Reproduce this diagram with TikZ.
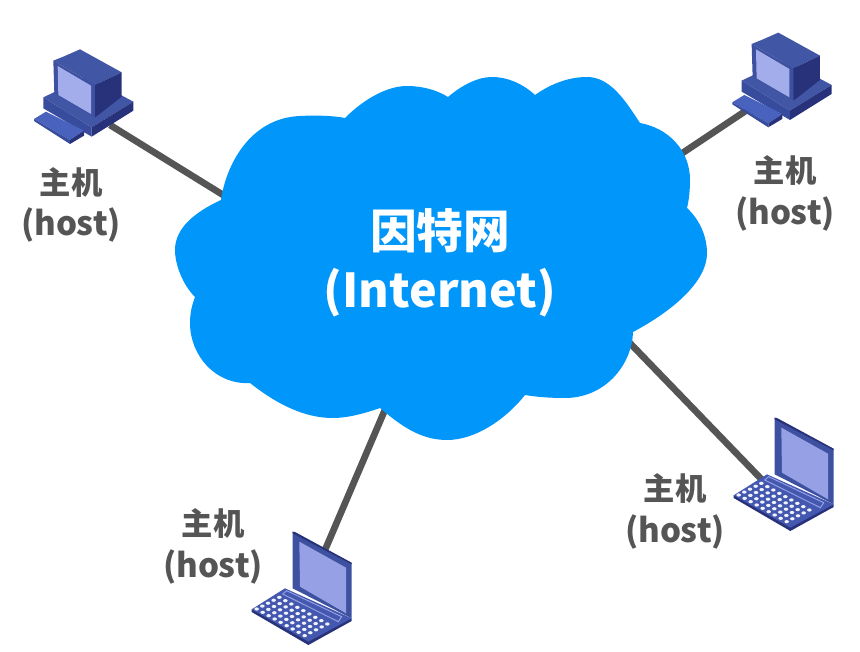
\documentclass[tikz,border=0pt]{standalone}
\usepackage{fontspec}
\newfontfamily\cjk{Noto Sans CJK SC}
\definecolor{cloudblue}{RGB}{0,150,250}
\definecolor{wire}{RGB}{85,85,85}
\definecolor{labelgray}{RGB}{85,85,85}
\definecolor{pcfront}{RGB}{62,80,160}
\definecolor{pctop}{RGB}{66,86,166}
\definecolor{pcside}{RGB}{40,50,122}
\definecolor{pcscreen}{RGB}{163,173,235}
\definecolor{pctray}{RGB}{72,98,190}
\definecolor{pcbase}{RGB}{56,76,158}
\definecolor{lapbase}{RGB}{68,88,176}
\definecolor{lapscreen}{RGB}{150,160,228}
\definecolor{lapkey}{RGB}{240,243,252}
\tikzset{
  connector/.style={draw=wire,line width=5pt},
  hostlabel/.style={text=labelgray,font=\cjk\bfseries\fontsize{23.5}{26}\selectfont,inner sep=0pt},
  hostlatin/.style={text=labelgray,font=\cjk\bfseries\fontsize{24.8}{26}\selectfont,inner sep=0pt},
  cloudlabel/.style={text=white,font=\cjk\bfseries\fontsize{35}{38}\selectfont,inner sep=0pt},
  desktop/.pic={
    \begin{scope}[scale=1/3]
      \fill[pctop] (70,172) -- (200,110) -- (340,185) -- (215,262) -- cycle;
      \fill[pcbase] (70,172) -- (215,262) -- (215,290) -- (70,205) -- cycle;
      \fill[pcside] (215,262) -- (340,185) -- (340,212) -- (215,290) -- cycle;
      \fill[pctray] (42,237) -- (78,215) -- (192,272) -- (150,300) -- cycle;
      \fill[pcbase] (42,237) -- (150,300) -- (150,312) -- (42,243) -- cycle;
      \fill[pcside] (150,300) -- (192,272) -- (192,287) -- (150,312) -- cycle;
      \fill[pctop] (100,62) -- (130,50) -- (180,28) -- (305,97) -- (225,135) -- cycle;
      \fill[pcfront] (100,62) -- (225,135) -- (225,232) -- (103,160) -- cycle;
      \fill[pcside] (225,135) -- (305,97) -- (305,170) -- (235,225) -- (225,232) -- cycle;
      \fill[pcscreen] (113,78) -- (213,137) -- (213,222) -- (115,165) -- cycle;
    \end{scope}
  },
  laptop/.pic={
    \begin{scope}[scale=1/3]
      \fill[pcside] (35,268) -- (35,276) -- (205,375) -- (335,303) -- (335,295) -- cycle;
      \fill[lapbase] (35,268) -- (135,205) -- (335,295) -- (205,365) -- cycle;
      \fill[pcfront] (158,35) -- (335,130) -- (335,295) -- (158,205) -- cycle;
      \fill[pcside] (158,35) -- (165,36) -- (335,128) -- (335,133) -- (158,40) -- cycle;
      \fill[lapscreen] (178,65) -- (318,143) -- (318,280) -- (180,200) -- cycle;
      \draw[lapscreen,line width=.7pt] (140,212) -- (305,290) -- (295,305) -- (128,222) -- cycle;
      \foreach \i in {0,...,8}
        \foreach \j in {0,...,4}
          \fill[lapkey] ({118+\i*18-\j*17},{232+\i*10+\j*8.75}) ellipse [x radius=6.8,y radius=4.8];
    \end{scope}
  }
}
\begin{document}
\begin{tikzpicture}[x=0.75pt,y=-0.75pt]
\useasboundingbox (0,0) rectangle (860,652);
\fill[white] (0,0) rectangle (860,652);
% connector ends
\coordinate (hostA) at (110,125);
\coordinate (hostB) at (750,108);
\coordinate (hostC) at (325,550);
\coordinate (hostD) at (767,485);
\coordinate (cloudA) at (228,198);
\coordinate (cloudB) at (675,158);
\coordinate (cloudC) at (387,405);
\coordinate (cloudD) at (625,338);
\draw[connector] (hostA) -- (cloudA);
\draw[connector] (hostB) -- (cloudB);
\draw[connector] (hostC) -- (cloudC);
\draw[connector] (hostD) -- (cloudD);
% cloud
\fill[cloudblue]
  (221,200) .. controls (226,165) and (250,118) .. (300,116) .. controls (318,115) and (335,116) .. (345,118)
  .. controls (365,98) and (388,86) .. (407,86) .. controls (422,86) and (437,90) .. (448,97)
  .. controls (462,85) and (478,77) .. (492,77) .. controls (508,77) and (523,84) .. (535,95)
  .. controls (552,83) and (570,77) .. (587,77) .. controls (610,77) and (625,100) .. (640,123)
  .. controls (668,128) and (690,150) .. (690,180) .. controls (690,190) and (689,200) .. (687,208)
  .. controls (700,220) and (707,237) .. (707,253) .. controls (707,285) and (665,315) .. (633,332)
  .. controls (632,365) and (605,398) .. (565,398) .. controls (550,398) and (537,397) .. (525,395)
  .. controls (505,420) and (475,440) .. (447,440) .. controls (420,440) and (400,425) .. (380,408)
  .. controls (360,415) and (345,418) .. (333,418) .. controls (305,418) and (278,405) .. (250,383)
  .. controls (215,385) and (190,355) .. (190,323) .. controls (190,313) and (192,305) .. (195,297)
  .. controls (183,285) and (175,265) .. (175,250) .. controls (175,228) and (195,212) .. (221,200)
  -- cycle;
% hosts
\pic (pcA) at (20,40) {desktop};
\pic (pcB) at (718.3,23.3) {desktop};
\pic (lapC) at (240,520) {laptop};
\pic (lapD) at (722,406) {laptop};
% text
\node[cloudlabel] (t1) at (440,231) {因特网};
\node[cloudlabel] (t2) at (440,293) {(Internet)};
\node[hostlabel] (a1) at (71,183) {主机};
\node[hostlatin] (a2) at (71,225) {(host)};
\node[hostlabel] (b1) at (785,171) {主机};
\node[hostlatin] (b2) at (785,214) {(host)};
\node[hostlabel] (c1) at (213,524) {主机};
\node[hostlatin] (c2) at (213,567) {(host)};
\node[hostlabel] (d1) at (675,489) {主机};
\node[hostlatin] (d2) at (675,532) {(host)};
\end{tikzpicture}
\end{document}
